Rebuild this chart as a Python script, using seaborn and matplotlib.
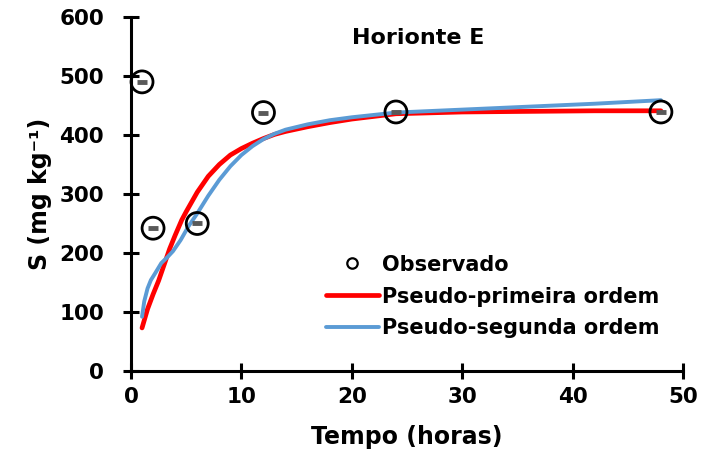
import matplotlib
matplotlib.use("Agg")
import matplotlib.pyplot as plt
from matplotlib.lines import Line2D
import seaborn as sns
import pandas as pd

# Observed sulfate sorption (S, mg/kg) over time (hours)
obs_time = [1, 2, 6, 12, 24, 48]
obs_s = [490, 242, 250, 438, 439, 439]

# Pseudo-first-order curve
pfo_time = [1.0, 1.5, 2.0, 2.5, 3.0, 3.5, 4.0, 4.6, 5.0, 6.0, 7.0, 8.0, 9.0,
            10.0, 11.0, 12.0, 13.0, 14.0, 16.0, 18.0, 20.0, 24.0, 30.0, 36.0, 42.0, 48.0]
pfo_s = [73, 105, 130, 153, 180, 207, 230, 256, 270, 303, 330, 350, 366,
         377, 386, 394, 401, 406, 414, 421, 427, 436, 439, 440, 441, 441]

# Pseudo-second-order curve
pso_time = [1.0, 1.2, 1.5, 1.8, 2.2, 2.75, 3.3, 3.8, 4.5, 5.2, 6.0, 7.0, 8.0, 9.0,
            10.0, 11.0, 12.0, 13.0, 14.0, 16.0, 18.0, 20.0, 24.0, 30.0, 36.0, 42.0, 48.0]
pso_s = [92, 118, 140, 154, 166, 183, 193, 203, 222, 245, 267, 297, 324, 347,
         366, 381, 393, 402, 409, 418, 425, 430, 438, 443, 448, 453, 459]

x_ticks = [0, 10, 20, 30, 40, 50]
y_ticks = [0, 100, 200, 300, 400, 500, 600]

sns.set_style("white")
plt.rcParams["font.family"] = ["DejaVu Sans"]
plt.rcParams["font.weight"] = "bold"
plt.rcParams["text.color"] = "black"
plt.rcParams["axes.labelcolor"] = "black"
plt.rcParams["xtick.color"] = "black"
plt.rcParams["ytick.color"] = "black"

fig = plt.figure(figsize=(7.05, 4.54), dpi=100)
ax = fig.add_axes([0.1858, 0.1828, 0.7830, 0.7798])

obs = pd.DataFrame({"t": obs_time, "s": obs_s})
pfo = pd.DataFrame({"t": pfo_time, "s": pfo_s})
pso = pd.DataFrame({"t": pso_time, "s": pso_s})

sns.lineplot(data=pfo, x="t", y="s", ax=ax, color="#FF0000", linewidth=3.4,
             sort=False, zorder=3)
sns.lineplot(data=pso, x="t", y="s", ax=ax, color="#5B9BD5", linewidth=2.8,
             sort=False, zorder=4)
# small grey bar inside each observation circle
sns.scatterplot(data=obs, x="t", y="s", ax=ax, marker="_", s=55, color="#595959",
                linewidth=3.5, zorder=5)
sns.scatterplot(data=obs, x="t", y="s", ax=ax, marker="o", s=250,
                facecolor="none", edgecolor="black", linewidth=2.0, zorder=6)

ax.set_xlim(0, 50)
ax.set_ylim(0, 600)
ax.set_xticks(x_ticks)
ax.set_yticks(y_ticks)
ax.tick_params(axis="both", which="major", bottom=True, left=True,
               direction="inout", length=11, width=2.2, labelsize=15.5,
               color="black", labelcolor="black")
ax.tick_params(axis="y", pad=14)
ax.tick_params(axis="x", pad=6)
for lab in ax.get_xticklabels() + ax.get_yticklabels():
    lab.set_fontweight("bold")

for side in ("top", "right"):
    ax.spines[side].set_visible(False)
for side in ("left", "bottom"):
    ax.spines[side].set_color("black")
    ax.spines[side].set_linewidth(2.2)
for coll in ax.collections:
    coll.set_clip_on(False)

ax.set_xlabel("Tempo (horas)", fontsize=17, fontweight="bold", labelpad=13)
ax.set_ylabel("S (mg kg⁻¹)", fontsize=17, fontweight="bold", labelpad=5)
ax.text(0.52, 0.94, "Horionte E", transform=ax.transAxes, ha="center",
        va="center", fontsize=16, fontweight="bold")

handles = [
    Line2D([], [], linestyle="none", marker="o", markersize=7.5,
           markerfacecolor="none", markeredgecolor="black", markeredgewidth=1.6),
    Line2D([], [], color="#FF0000", linewidth=3.4),
    Line2D([], [], color="#5B9BD5", linewidth=2.8),
]
labels = ["Observado", "Pseudo-primeira ordem", "Pseudo-segunda ordem"]
ax.legend(handles, labels, loc="upper left", bbox_to_anchor=(0.338, 0.352),
          frameon=False, handlelength=2.55, handletextpad=0.15,
          labelspacing=0.57, borderaxespad=0,
          prop={"weight": "bold", "size": 15})

fig.savefig("out.png", dpi=100)
